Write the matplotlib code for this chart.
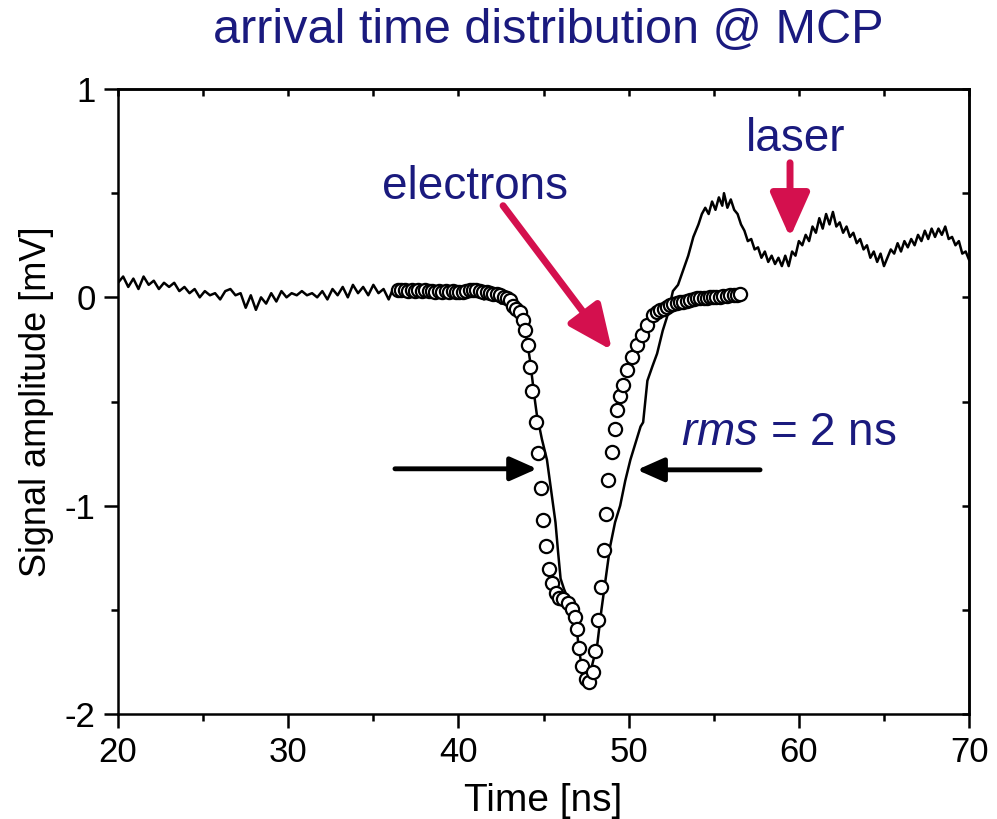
import matplotlib
matplotlib.use("Agg")
import matplotlib.pyplot as plt
from matplotlib.ticker import MultipleLocator

plt.rcParams['font.family'] = ['Liberation Sans', 'DejaVu Sans']
plt.rcParams['axes.unicode_minus'] = False
plt.rcParams['mathtext.fontset'] = 'custom'
plt.rcParams['mathtext.rm'] = 'Liberation Sans'
plt.rcParams['mathtext.it'] = 'Liberation Sans:italic'

NAVY = '#1a1a7e'
CRIMSON = '#d4104e'

# measured signal (solid line)
trace_t = [20.0, 20.3, 20.6, 20.9, 21.2, 21.5, 21.8, 22.1, 22.4, 22.7, 23.0, 23.3, 23.6, 23.9,
           24.2, 24.5, 24.8, 25.1, 25.4, 25.7, 26.0, 26.3, 26.6, 26.9, 27.2, 27.5, 27.8, 28.1,
           28.4, 28.7, 29.0, 29.3, 29.6, 29.9, 30.2, 30.5, 30.8, 31.1, 31.4, 31.7, 32.0, 32.3,
           32.6, 32.9, 33.2, 33.5, 33.8, 34.1, 34.4, 34.7, 35.0, 35.3, 35.6, 35.9, 36.2, 36.5,
           37.0, 37.5, 38.0, 38.5, 39.0, 39.5, 40.0, 40.5, 41.0, 41.5, 42.0, 42.5, 43.0, 43.3,
           43.6, 43.85, 44.05, 44.2, 44.35, 44.5, 44.6, 44.9, 45.2, 45.45, 45.7, 45.85, 46.0,
           46.2, 46.4, 46.6, 46.85, 47.05, 47.25, 47.45, 47.7, 47.9, 48.15, 48.4, 48.65, 48.9,
           49.2, 49.5, 49.8, 50.1, 50.4, 50.7, 50.85, 51.0, 51.1, 51.4, 51.67, 52.0, 52.25,
           52.6, 52.9, 53.2, 53.5, 53.8, 54.1, 54.3, 54.5, 54.7, 54.9, 55.1, 55.3, 55.5, 55.6,
           55.8, 56.0, 56.2, 56.4, 56.6, 56.8, 57.0, 57.2, 57.4, 57.6, 57.8, 58.0, 58.2, 58.4,
           58.6, 58.8, 59.0, 59.2, 59.4, 59.6, 59.8, 60.0, 60.2, 60.4, 60.6, 60.8, 61.0, 61.2,
           61.4, 61.6, 61.8, 62.0, 62.2, 62.4, 62.6, 62.8, 63.0, 63.2, 63.4, 63.6, 63.8, 64.0,
           64.2, 64.4, 64.6, 64.8, 65.0, 65.2, 65.4, 65.6, 65.8, 66.0, 66.2, 66.4, 66.6, 66.8,
           67.0, 67.2, 67.4, 67.6, 67.8, 68.0, 68.2, 68.4, 68.6, 68.8, 69.0, 69.2, 69.4, 69.6,
           69.8, 70.0]
trace_v = [0.07, 0.10, 0.05, 0.09, 0.04, 0.10, 0.06, 0.08, 0.04, 0.07, 0.05, 0.07, 0.03, 0.05,
           0.02, 0.04, 0.00, 0.03, 0.01, 0.02, -0.01, 0.03, 0.04, 0.01, 0.02, -0.05, 0.01, -0.06,
           0.00, -0.03, 0.02, -0.02, 0.03, 0.00, 0.02, 0.01, 0.03, 0.01, 0.02, 0.00, 0.03, -0.01,
           0.04, 0.01, 0.05, 0.00, 0.06, 0.02, 0.05, 0.01, 0.06, 0.02, 0.04, -0.01, 0.05, 0.03,
           0.05, 0.02, 0.04, 0.01, 0.03, 0.00, 0.03, 0.01, 0.02, -0.01, 0.00, -0.03, -0.02, -0.05,
           -0.09, -0.14, -0.22, -0.30, -0.40, -0.50, -0.56, -0.68, -0.78, -0.93, -1.08, -1.22, -1.35,
           -1.40, -1.44, -1.47, -1.51, -1.67, -1.78, -1.87, -1.82, -1.75, -1.67, -1.50, -1.35, -1.20,
           -1.08, -1.00, -0.88, -0.78, -0.70, -0.62, -0.60, -0.48, -0.40, -0.33, -0.27, -0.16, -0.095,
           0.03, 0.06, 0.13, 0.20, 0.29, 0.35, 0.40, 0.43, 0.40, 0.46, 0.42, 0.48, 0.44, 0.50,
           0.43, 0.47, 0.42, 0.40, 0.35, 0.32, 0.27, 0.28, 0.23, 0.24, 0.19, 0.22, 0.17, 0.20,
           0.16, 0.19, 0.15, 0.20, 0.15, 0.22, 0.20, 0.27, 0.25, 0.30, 0.27, 0.34, 0.31, 0.38,
           0.33, 0.40, 0.35, 0.41, 0.34, 0.36, 0.31, 0.34, 0.29, 0.31, 0.26, 0.28, 0.23, 0.25,
           0.19, 0.22, 0.17, 0.21, 0.15, 0.19, 0.23, 0.21, 0.26, 0.22, 0.27, 0.24, 0.28, 0.25,
           0.30, 0.27, 0.32, 0.28, 0.33, 0.29, 0.33, 0.30, 0.34, 0.28, 0.29, 0.25, 0.27, 0.21,
           0.22, 0.18]

# electron arrival distribution (open circles)
elec_t = [36.45, 36.65, 36.85, 37.05, 37.25, 37.45, 37.65, 37.85, 38.05, 38.25, 38.45, 38.65,
          38.85, 39.05, 39.25, 39.45, 39.65, 39.85, 40.05, 40.25, 40.45, 40.65, 40.85, 41.05,
          41.25, 41.45, 41.65, 41.85, 42.05, 42.25, 42.45, 42.65, 42.85, 43.0, 43.2, 43.4,
          43.62, 43.8, 43.91, 44.09, 44.2, 44.34, 44.56, 44.70, 44.85, 44.99, 45.15, 45.34,
          45.48, 45.73, 45.93, 46.16, 46.46, 46.66, 46.85, 46.99, 47.11, 47.24, 47.50, 47.69,
          47.93, 48.03, 48.22, 48.38, 48.55, 48.67, 48.81, 49.00, 49.20, 49.33, 49.49, 49.65,
          49.9, 50.2, 50.49, 50.79, 51.08, 51.43, 51.65, 51.85, 52.05, 52.25, 52.43, 52.63,
          52.83, 53.02, 53.22, 53.42, 53.62, 53.82, 54.0, 54.2, 54.4, 54.6, 54.8, 54.96,
          55.16, 55.36, 55.56, 55.76, 55.96, 56.16, 56.36, 56.55]
elec_v = [0.035, 0.033, 0.036, 0.032, 0.035, 0.031, 0.034, 0.030, 0.033, 0.029, 0.032, 0.028,
          0.031, 0.027, 0.030, 0.026, 0.029, 0.025, 0.028, 0.026, 0.030, 0.033, 0.035, 0.033,
          0.030, 0.027, 0.025, 0.022, 0.018, 0.014, 0.010, 0.004, -0.005, -0.014, -0.040, -0.055,
          -0.070, -0.110, -0.158, -0.230, -0.333, -0.448, -0.597, -0.748, -0.915, -1.067, -1.195, -1.303,
          -1.370, -1.418, -1.442, -1.450, -1.466, -1.498, -1.533, -1.593, -1.681, -1.769, -1.833, -1.848,
          -1.800, -1.697, -1.549, -1.389, -1.211, -1.038, -0.876, -0.740, -0.633, -0.541, -0.474, -0.421,
          -0.350, -0.285, -0.230, -0.180, -0.134, -0.086, -0.072, -0.062, -0.054, -0.047, -0.038, -0.033,
          -0.028, -0.024, -0.020, -0.016, -0.012, -0.008, -0.005, -0.003, -0.002, -0.001, 0.000, 0.000,
          0.002, 0.004, 0.006, 0.008, 0.010, 0.011, 0.012, 0.014]

fig = plt.figure(figsize=(9.97, 8.19), dpi=100)
ax = fig.add_axes([0.1184, 0.1282, 0.8536, 0.7631])

ax.plot(trace_t, trace_v, color='black', lw=1.8, zorder=2)
ax.plot(elec_t, elec_v, ls='none', marker='o', ms=9.5, mfc='white', mec='black', mew=1.6, zorder=3)

ax.set_xlim(20, 70)
ax.set_ylim(-2, 1)
ax.xaxis.set_major_locator(MultipleLocator(10))
ax.xaxis.set_minor_locator(MultipleLocator(5))
ax.yaxis.set_major_locator(MultipleLocator(1))
ax.yaxis.set_minor_locator(MultipleLocator(0.5))

for s in ax.spines.values():
    s.set_linewidth(1.8)
ax.tick_params(which='both', direction='out', width=1.8, labelsize=25, pad=6)
ax.tick_params(which='major', length=10)
ax.tick_params(which='minor', length=5)

# inward ticks on top and right
sec_x = ax.secondary_xaxis('top')
sec_x.xaxis.set_major_locator(MultipleLocator(10))
sec_x.xaxis.set_minor_locator(MultipleLocator(5))
sec_x.tick_params(which='both', direction='in', width=1.8, labeltop=False, length=5)
sec_y = ax.secondary_yaxis('right')
sec_y.yaxis.set_major_locator(MultipleLocator(1))
sec_y.yaxis.set_minor_locator(MultipleLocator(0.5))
sec_y.tick_params(which='both', direction='in', width=1.8, labelright=False, length=5)
for s in list(sec_x.spines.values()) + list(sec_y.spines.values()):
    s.set_linewidth(1.8)

ax.set_xlabel('Time [ns]', fontsize=28, labelpad=10)
ax.set_ylabel('Signal amplitude [mV]', fontsize=26, labelpad=8)

fig.text(0.55, 0.963, 'arrival time distribution @ MCP', color=NAVY, fontsize=35,
         ha='center', va='center')

# annotations
ax.text(41.0, 0.53, 'electrons', color=NAVY, fontsize=33, ha='center', va='center')
ax.text(59.8, 0.76, 'laser', color=NAVY, fontsize=33, ha='center', va='center')
ax.text(53.1, -0.65, r'$\mathit{rms}$ = 2 ns', color=NAVY, fontsize=33, ha='left', va='center')

red_arrow = dict(arrowstyle='-|>,head_length=0.9,head_width=0.4', color=CRIMSON, lw=5,
                 shrinkA=0, shrinkB=0, mutation_scale=30)
ax.annotate('', xy=(49.02, -0.254), xytext=(42.62, 0.44), arrowprops=red_arrow)
ax.annotate('', xy=(59.48, 0.287), xytext=(59.48, 0.646), arrowprops=red_arrow)

black_arrow = dict(arrowstyle='-|>,head_length=0.9,head_width=0.4', color='black', lw=3.5,
                   shrinkA=0, shrinkB=0, mutation_scale=18)
ax.annotate('', xy=(44.62, -0.823), xytext=(36.27, -0.823), arrowprops=black_arrow)
ax.annotate('', xy=(50.49, -0.828), xytext=(57.72, -0.828), arrowprops=black_arrow)

fig.savefig('out.png', dpi=100)
